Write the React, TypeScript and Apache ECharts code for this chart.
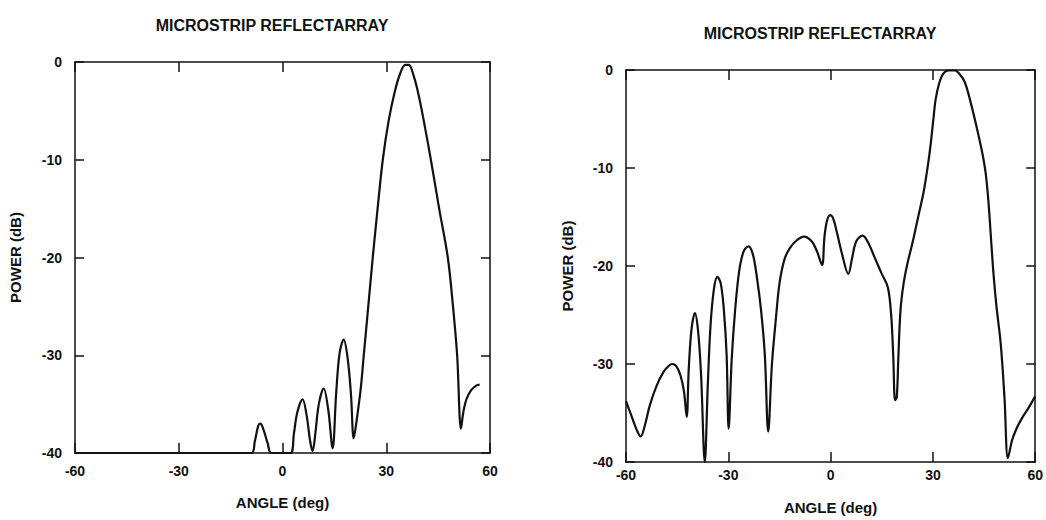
import React, { useEffect, useRef } from "react";
import * as echarts from "echarts";

const chartTitle = "MICROSTRIP REFLECTARRAY";
const xAxisName = "ANGLE (deg)";
const yAxisName = "POWER (dB)";

const leftAngles = [
  -60, -9, -8, -7, -6.4, -5.5, -4.3, -3.2, 2.3, 3.3, 4.3, 5.8, 7.0, 8.0, 8.7, 9.5, 10.5, 11.9, 13.2, 14.5,
  15.5, 16.5, 17.7, 18.8, 19.8, 20.6, 21.5, 22.6, 23.5, 24.8, 26.1, 27.5, 29, 30.7, 32.5, 34, 35.5, 36.5,
  38, 39.5, 41, 42.9, 45.3, 47.8, 49.3, 50.5, 51.6, 52.3, 53.2, 54.5, 56, 57,
];
const leftPower = [
  -40, -40, -38.8, -37.2, -37.0, -37.6, -39, -40, -40, -38, -35.8, -34.5, -36.2, -38.8, -39.8, -38, -35, -33.4, -35.5, -39.5,
  -34, -29.8, -28.4, -30.2, -34, -38.5, -36.5, -33.5, -30, -25, -20, -15, -10, -6, -3, -1.2, -0.3, -0.3,
  -1.5, -3.6, -6.3, -10, -15, -20, -25, -30, -37.5, -35.8, -34.5, -33.6, -33.1, -33.0,
];

const rightAngles = [
  -60, -58.5, -57, -55.7, -54.5, -53, -51, -49, -47.5, -46.5, -45.3, -44, -43, -42.2, -41.6, -40.8, -39.8,
  -38.9, -38, -36.9, -36, -35.2, -34.2, -33.2, -32.2, -31.3, -30.5, -29.9, -29, -28, -26.8, -25.5, -24.1,
  -22.8, -21.6, -20.4, -19.3, -18.3, -17.2, -16, -15, -13.6, -12, -10, -7.8, -5.5, -4, -2.5, -1.8, -1,
  -0.1, 0.8, 2, 3.3, 5.2, 6.3, 7.5, 9.4, 11, 13, 15, 16.8, 17.8, 18.4, 18.9, 19.4, 19.9, 20.5, 21.4, 22.5,
  24.1, 25.8, 27.3, 28.5, 29.4, 30.2, 30.8, 31.8, 33, 34.5, 36.5, 37.8, 39.3, 41, 43.2, 44.5, 45.5, 46.3,
  47, 47.7, 48.6, 49.9, 51, 52, 53.2, 54.5, 56, 58, 60,
];
const rightPower = [
  -33.8, -35.2, -36.6, -37.4, -36.3, -34.2, -32.2, -30.8, -30.2, -30.0, -30.2, -31.2, -32.8, -35.4, -30.5, -26.5, -24.8,
  -26.5, -31, -40, -32, -26, -22.3, -21.1, -21.8, -24.5, -29, -36.6, -29.5, -24.5, -20.5, -18.5, -18.0,
  -18.8, -21.2, -24.5, -29, -36.9, -30, -25.2, -21.8, -19.4, -18.2, -17.4, -17.0, -17.5, -18.5, -19.9, -17, -15.3,
  -14.8, -15.2, -16.8, -18.7, -20.8, -19.2, -17.5, -16.9, -17.6, -19.2, -20.8, -22.2, -25.2, -29.5, -33.7, -33.4, -29, -24.5, -21.8, -19.8,
  -17.5, -14.8, -12.4, -9.8, -7.4, -4.8, -3.0, -1.4, -0.4, -0.05, -0.05, -0.4, -1.2, -3.2, -6.4, -8.5, -10.6, -13.5,
  -17, -20.5, -24, -28, -33.5, -39.6, -37.8, -36.6, -35.6, -34.5, -33.3,
];

const ink = "#111";
const font = "Liberation Sans";

function pairs(xs: number[], ys: number[]) {
  return xs.map((x, i) => [x, ys[i]]);
}

const nameStyle = { color: ink, fontFamily: font, fontWeight: "bold", fontSize: 15 };
const labelStyle = { color: ink, fontFamily: font, fontWeight: "bold", fontSize: 14 };

function xAxes(gridIndex: number, labelMargin: number, nameGap: number) {
  return [
    {
      type: "value",
      gridIndex,
      position: "bottom",
      min: -60,
      max: 60,
      interval: 30,
      name: xAxisName,
      nameLocation: "middle",
      nameGap,
      nameTextStyle: nameStyle,
      axisLine: { show: true, onZero: false, lineStyle: { color: ink, width: 1.5 } },
      axisTick: { show: true, inside: true, length: 10, lineStyle: { color: ink, width: 1.5 } },
      axisLabel: { show: true, margin: labelMargin, ...labelStyle },
      splitLine: { show: false },
    },
    {
      type: "value",
      gridIndex,
      position: "top",
      min: -60,
      max: 60,
      interval: 30,
      axisLine: { show: true, onZero: false, lineStyle: { color: ink, width: 1.5 } },
      axisTick: { show: true, inside: true, length: 10, lineStyle: { color: ink, width: 1.5 } },
      axisLabel: { show: false },
      splitLine: { show: false },
    },
  ];
}

function yAxes(gridIndex: number, nameGap: number) {
  return [
    {
      type: "value",
      gridIndex,
      position: "left",
      min: -40,
      max: 0,
      interval: 10,
      name: yAxisName,
      nameLocation: "middle",
      nameGap,
      nameTextStyle: nameStyle,
      axisLine: { show: true, onZero: false, lineStyle: { color: ink, width: 1.5 } },
      axisTick: { show: true, inside: true, length: 9, lineStyle: { color: ink, width: 1.5 } },
      axisLabel: { show: true, margin: 13, ...labelStyle },
      splitLine: { show: false },
    },
    {
      type: "value",
      gridIndex,
      position: "right",
      min: -40,
      max: 0,
      interval: 10,
      axisLine: { show: true, onZero: false, lineStyle: { color: ink, width: 1.5 } },
      axisTick: { show: true, inside: true, length: 9, lineStyle: { color: ink, width: 1.5 } },
      axisLabel: { show: false },
      splitLine: { show: false },
    },
  ];
}

export default function App() {
  const ref = useRef<HTMLDivElement>(null);

  useEffect(() => {
    if (!ref.current) return;
    const chart = echarts.init(ref.current, undefined, { renderer: "svg" });
    const titleStyle = {
      text: chartTitle,
      fill: ink,
      font: `bold 16px "${font}"`,
      textAlign: "center",
      textVerticalAlign: "middle",
    };
    chart.setOption({
      animation: false,
      backgroundColor: "#fff",
      graphic: [
        { type: "text", x: 272, y: 25, style: titleStyle },
        { type: "text", x: 820, y: 33, style: titleStyle },
      ],
      grid: [
        { left: 75, top: 62, width: 415, height: 391, containLabel: false },
        { left: 626, top: 70, width: 415, height: 397, containLabel: false },
      ],
      xAxis: [...xAxes(0, 11, 42), ...xAxes(1, 6, 38)],
      yAxis: [...yAxes(0, 52), ...yAxes(1, 51)],
      series: [
        {
          type: "line",
          xAxisIndex: 0,
          yAxisIndex: 0,
          data: pairs(leftAngles, leftPower),
          showSymbol: false,
          smooth: 0.35,
          lineStyle: { color: ink, width: 2.2 },
        },
        {
          type: "line",
          xAxisIndex: 2,
          yAxisIndex: 2,
          data: pairs(rightAngles, rightPower),
          showSymbol: false,
          smooth: 0.35,
          lineStyle: { color: ink, width: 2.2 },
        },
      ],
    });
    return () => chart.dispose();
  }, []);

  return (
    <div
      ref={ref}
      style={{ position: "absolute", left: 0, top: 0, width: 1046, height: 520, background: "#fff" }}
    />
  );
}
